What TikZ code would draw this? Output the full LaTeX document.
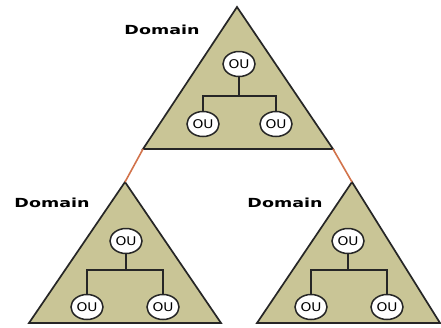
\documentclass[tikz,border=0pt]{standalone}
\usepackage{fontspec}
\setmainfont{DejaVu Sans}
\usetikzlibrary{shapes.geometric}

\definecolor{domainfill}{RGB}{201,197,150}
\definecolor{linkorange}{RGB}{210,115,75}

\begin{document}
\begin{tikzpicture}[x=1pt, y=-1pt]

  % Styles
  \tikzset{
    domain area/.style={fill=domainfill, draw=black!85, line width=1.7pt, line join=miter},
    ou/.style={ellipse, draw=black!85, fill=white, line width=1.5pt,
      minimum width=32pt, minimum height=25pt, inner sep=0pt,
      font=\fontsize{12}{12}\selectfont},
    domain label/.style={font=\bfseries\fontsize{12.5}{12.5}\selectfont},
    tree/.style={draw=black!85, line width=1.3pt},
    trust/.style={draw=linkorange, line width=1.6pt}
  }

  \useasboundingbox[fill=white] (0,0) rectangle (441,327);

  % --- TOP DOMAIN ---
  \coordinate (t apex) at (237,7);
  \coordinate (t left) at (143,149);
  \coordinate (t right) at (333,149);
  \path[domain area] (t apex) -- (t left) -- (t right) -- cycle;
  \node[domain label] (t name) at (162,30) {\scalebox{1.4}[1]{Domain}};

  \node[ou] (t ou) at (239,64) {\scalebox{1.15}[1]{OU}};
  \node[ou] (t ou l) at (203,124) {\scalebox{1.15}[1]{OU}};
  \node[ou] (t ou r) at (276,124) {\scalebox{1.15}[1]{OU}};
  \coordinate (t joint) at (239,96);
  \draw[tree] (t ou) -- (t joint);
  \draw[tree] (t ou l.north) |- (t joint) -| (t ou r.north);

  % --- LEFT DOMAIN ---
  \coordinate (l apex) at (125,182);
  \coordinate (l left) at (29,323);
  \coordinate (l right) at (221,323);
  \path[domain area] (l apex) -- (l left) -- (l right) -- cycle;
  \node[domain label] (l name) at (52,203) {\scalebox{1.4}[1]{Domain}};

  \node[ou] (l ou) at (126,241) {\scalebox{1.15}[1]{OU}};
  \node[ou] (l ou l) at (87,307) {\scalebox{1.15}[1]{OU}};
  \node[ou] (l ou r) at (163,307) {\scalebox{1.15}[1]{OU}};
  \coordinate (l joint) at (126,270);
  \draw[tree] (l ou) -- (l joint);
  \draw[tree] (l ou l.north) |- (l joint) -| (l ou r.north);

  % --- RIGHT DOMAIN ---
  \coordinate (r apex) at (352,182);
  \coordinate (r left) at (257,323);
  \coordinate (r right) at (440,323);
  \path[domain area] (r apex) -- (r left) -- (r right) -- cycle;
  \node[domain label] (r name) at (285,203) {\scalebox{1.4}[1]{Domain}};

  \node[ou] (r ou) at (348,241) {\scalebox{1.15}[1]{OU}};
  \node[ou] (r ou l) at (311,307) {\scalebox{1.15}[1]{OU}};
  \node[ou] (r ou r) at (387,307) {\scalebox{1.15}[1]{OU}};
  \coordinate (r joint) at (348,270);
  \draw[tree] (r ou) -- (r joint);
  \draw[tree] (r ou l.north) |- (r joint) -| (r ou r.north);

  % --- TRUST LINKS ---
  \draw[trust] (t left) -- (l apex);
  \draw[trust] (t right) -- (r apex);

\end{tikzpicture}
\end{document}
